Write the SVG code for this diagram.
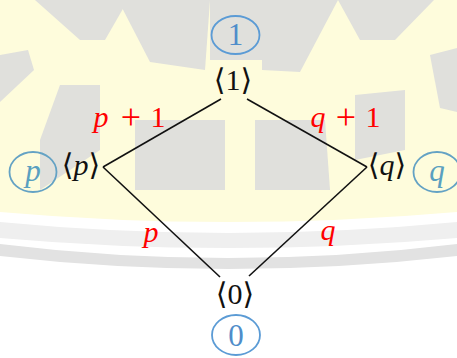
<svg xmlns="http://www.w3.org/2000/svg" width="457" height="358" viewBox="0 0 457 358">
<style>
.bg{fill:#fefcdc}
.wm{fill:#e0e0dc}
.edge{stroke:#111;stroke-width:1.6;fill:none}
.lbl{font-family:"Liberation Serif","DejaVu Serif",serif;font-size:30px;fill:#111;text-anchor:middle}
.red{font-family:"Liberation Serif","DejaVu Serif",serif;font-size:30px;fill:#ff0000;text-anchor:middle}
.plus{font-size:36px}
.ring{fill:none;stroke:#5b9bd5;stroke-width:1.8}
.ring2{fill:none;stroke:#64a2c4;stroke-width:1.8}
.num{font-family:"Liberation Serif","DejaVu Serif",serif;font-size:31px;fill:#4f8dca;text-anchor:middle}
.num2{font-family:"Liberation Serif","DejaVu Serif",serif;font-size:31px;fill:#5aa0c0;text-anchor:middle}
</style>
<g id="watermark">
<rect x="0" y="0" width="457" height="358" fill="#ffffff"/>
<path class="bg" d="M0 0 H457 V212 Q228 232 0 212 Z"/>
<path d="M0 222 Q228 244 457 222 V238 Q228 258 0 238 Z" fill="#efefef"/>
<path d="M0 244 Q228 272 457 244 V256 Q228 282 0 256 Z" fill="#e2e2e2"/>
<polygon class="wm" points="35,0 128,0 105,40 80,40"/>
<polygon class="wm" points="118,0 210,0 205,70 150,62"/>
<polygon class="wm" points="210,0 262,0 262,60 210,60"/>
<polygon class="wm" points="262,0 338,0 300,72 262,70"/>
<polygon class="wm" points="338,0 434,0 395,40 360,40"/>
<polygon class="wm" points="430,55 457,48 457,112 440,108"/>
<polygon class="wm" points="0,55 28,50 34,70 0,102"/>
<polygon class="wm" points="60,85 100,85 100,150 40,190 40,140"/>
<polygon class="wm" points="135,120 225,120 225,190 135,190"/>
<polygon class="wm" points="255,120 325,120 330,190 255,190"/>
<polygon class="wm" points="355,95 405,90 405,150 355,160"/>
</g>
<g id="connectors">
<line class="edge" x1="221" y1="99" x2="103" y2="167"/>
<line class="edge" x1="247" y1="99" x2="367" y2="167"/>
<line class="edge" x1="103" y1="167" x2="220" y2="277"/>
<line class="edge" x1="367" y1="167" x2="249" y2="276"/>
<text class="red" y="127"><tspan x="101" font-style="italic">p</tspan><tspan class="plus" x="131" y="129">+</tspan><tspan x="158" y="127">1</tspan></text>
<text class="red" y="127"><tspan x="318" font-style="italic">q</tspan><tspan class="plus" x="346" y="129">+</tspan><tspan x="373" y="127">1</tspan></text>
<text class="red" x="151" y="242" font-style="italic">p</text>
<text class="red" x="328" y="240" font-style="italic">q</text>
</g>
<g id="node-1">
<ellipse class="ring" cx="235.5" cy="35" rx="24" ry="19"/>
<text class="num" x="235.5" y="45">1</text>
<text class="lbl" x="233" y="90">⟨1⟩</text>
</g>
<g id="node-p">
<ellipse class="ring2" cx="33" cy="172" rx="23.5" ry="20"/>
<text class="num2" x="33" y="181" font-style="italic">p</text>
<text class="lbl" x="81" y="175">⟨<tspan font-style="italic">p</tspan>⟩</text>
</g>
<g id="node-q">
<ellipse class="ring2" cx="437" cy="172" rx="23.5" ry="20"/>
<text class="num2" x="437" y="181" font-style="italic">q</text>
<text class="lbl" x="387" y="175">⟨<tspan font-style="italic">q</tspan>⟩</text>
</g>
<g id="node-0">
<ellipse class="ring" cx="236" cy="335" rx="24" ry="20"/>
<text class="num" x="236" y="346">0</text>
<text class="lbl" x="235" y="304">⟨0⟩</text>
</g>
</svg>
